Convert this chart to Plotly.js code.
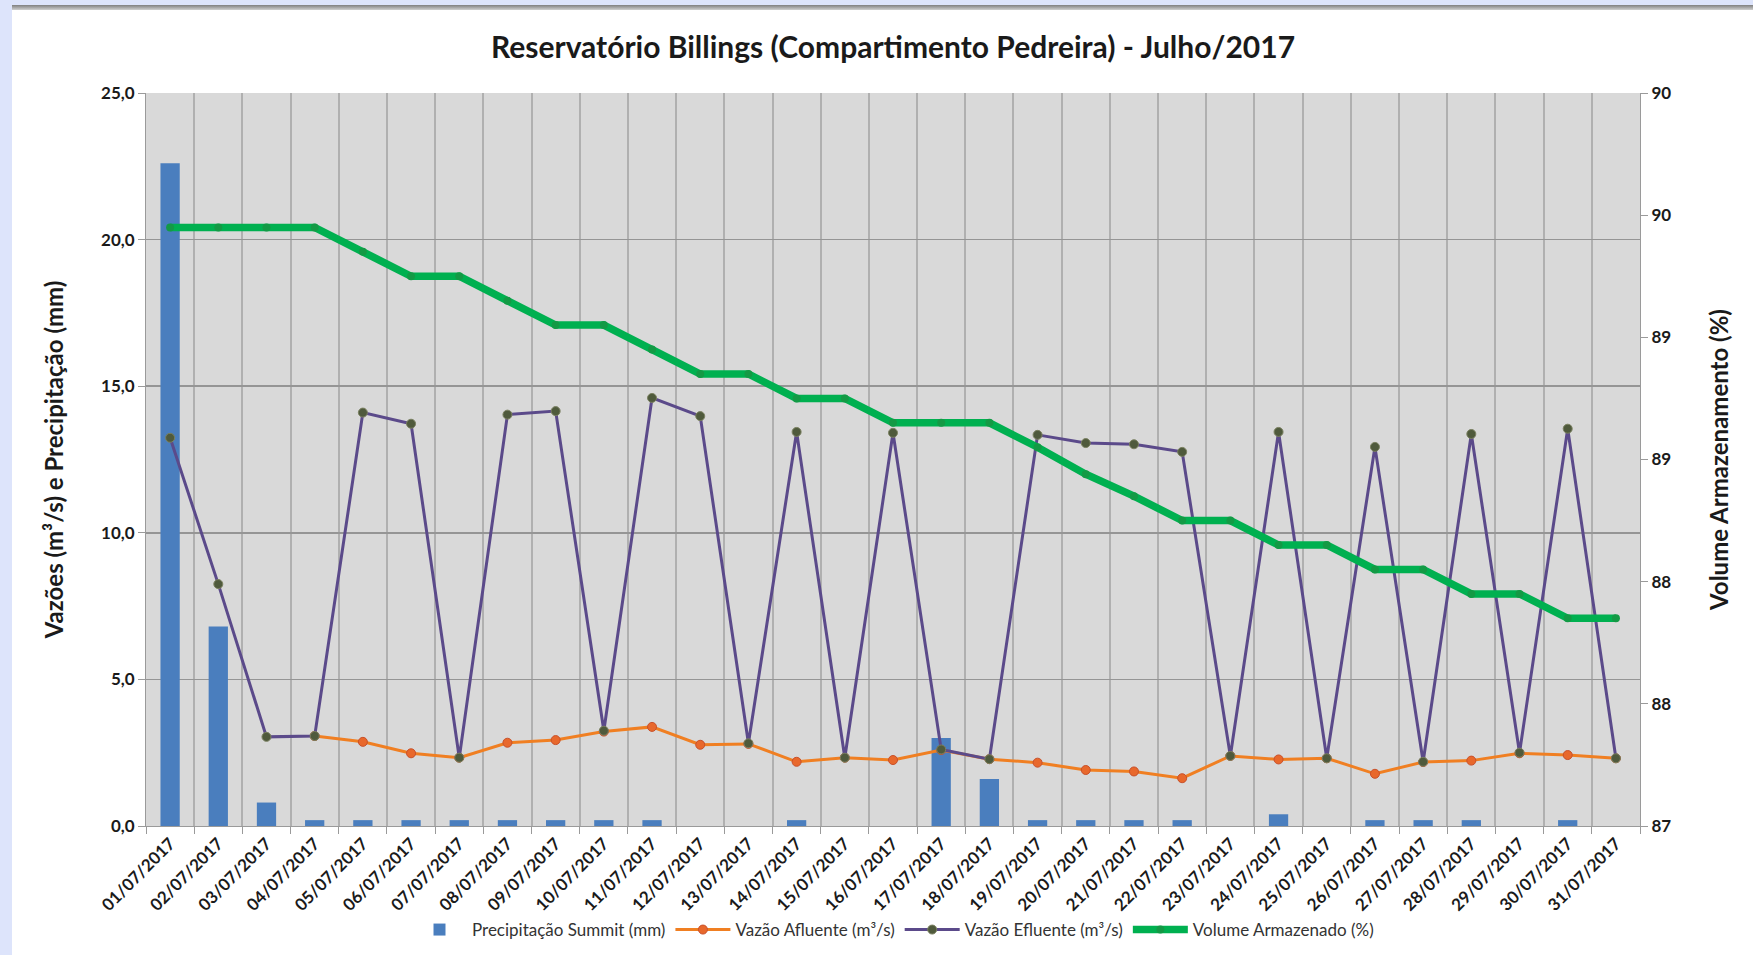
<!DOCTYPE html>
<html>
<head>
<meta charset="utf-8">
<script src="https://cdn.plot.ly/plotly-3.0.1.min.js"></script>
<style>
  html, body { margin: 0; padding: 0; background: #ffffff; }
  #chart { position: absolute; left: 0; top: 0; width: 1753px; height: 955px; }
  #frameLeft { position: absolute; left: 0; top: 0; width: 12px; height: 955px; background: #dde4fb; }
  #frameTop { position: absolute; left: 0; top: 0; width: 1753px; height: 5px; background: #dde4fb; }
  #frameLine { position: absolute; left: 12px; top: 5px; width: 1741px; height: 5px;
               background: linear-gradient(#7f7f7f, #d0d0d0); }
</style>
</head>
<body>
<div id="chart"></div>
<div id="frameLeft"></div>
<div id="frameTop"></div>
<div id="frameLine"></div>
<script>
// ---- Data ----
const dates = [
  "01/07/2017","02/07/2017","03/07/2017","04/07/2017","05/07/2017","06/07/2017","07/07/2017",
  "08/07/2017","09/07/2017","10/07/2017","11/07/2017","12/07/2017","13/07/2017","14/07/2017",
  "15/07/2017","16/07/2017","17/07/2017","18/07/2017","19/07/2017","20/07/2017","21/07/2017",
  "22/07/2017","23/07/2017","24/07/2017","25/07/2017","26/07/2017","27/07/2017","28/07/2017",
  "29/07/2017","30/07/2017","31/07/2017"
];

// Precipitação Summit (mm)
const precipitacao = [
  22.6, 6.8, 0.8, 0.2, 0.2, 0.2, 0.2,
  0.2, 0.2, 0.2, 0.2, null, null, 0.2,
  null, null, 3.0, 1.6, 0.2, 0.2, 0.2,
  0.2, null, 0.4, null, 0.2, 0.2, 0.2,
  null, 0.2, null
];

// Vazão Afluente (m³/s)
const vazaoAfluente = [
  null, null, null, 3.07, 2.87, 2.48, 2.33,
  2.84, 2.93, 3.22, 3.38, 2.77, 2.80, 2.19,
  2.33, 2.25, 2.59, 2.28, 2.16, 1.91, 1.86,
  1.63, 2.39, 2.27, 2.31, 1.78, 2.18, 2.23,
  2.48, 2.42, 2.31
];

// Vazão Efluente (m³/s)
const vazaoEfluente = [
  13.24, 8.25, 3.04, 3.07, 14.10, 13.72, 2.33,
  14.03, 14.15, 3.25, 14.60, 13.98, 2.82, 13.44,
  2.33, 13.41, 2.61, 2.28, 13.34, 13.06, 13.02,
  12.76, 2.39, 13.44, 2.31, 12.93, 2.19, 13.37,
  2.50, 13.55, 2.31
];

// Volume Armazenado (%)
const volumeArmazenado = [
  89.45, 89.45, 89.45, 89.45, 89.35, 89.25, 89.25,
  89.15, 89.05, 89.05, 88.95, 88.85, 88.85, 88.75,
  88.75, 88.65, 88.65, 88.65, 88.55, 88.44, 88.35,
  88.25, 88.25, 88.15, 88.15, 88.05, 88.05, 87.95,
  87.95, 87.85, 87.85
];

// Right axis ticks (Excel shows them rounded to integers)
const rightTickVals = [87, 87.5, 88, 88.5, 89, 89.5, 90];
const rightTickText = ["87", "88", "88", "89", "89", "90", "90"];

const titleText = "Reservatório Billings (Compartimento Pedreira) - Julho/2017";
const leftTitle = "Vazões (m³/s) e Precipitação (mm)";
const rightTitle = "Volume Armazenamento (%)";

const FONT = "Lato, 'Open Sans', 'DejaVu Sans', sans-serif";

const traces = [
  {
    type: "bar", name: "Precipitação Summit (mm)",
    x: dates, y: precipitacao, width: 0.4,
    marker: { color: "#4a7ebe" }
  },
  {
    type: "scatter", mode: "lines+markers", name: "Vazão Afluente (m³/s)",
    x: dates, y: vazaoAfluente,
    line: { color: "#f07f22", width: 3 },
    marker: { symbol: "circle", size: 9, color: "#e8682c", line: { color: "#c8502a", width: 1 } }
  },
  {
    type: "scatter", mode: "lines+markers", name: "Vazão Efluente (m³/s)",
    x: dates, y: vazaoEfluente,
    line: { color: "#5b4a8a", width: 3 },
    marker: { symbol: "circle", size: 9, color: "#4f5a3c", line: { color: "#7a8060", width: 1 } }
  },
  {
    type: "scatter", mode: "lines+markers", name: "Volume Armazenado (%)",
    x: dates, y: volumeArmazenado, yaxis: "y2",
    line: { color: "#00b050", width: 7.5 },
    marker: { symbol: "circle", size: 8, color: "#139a45" }
  }
];

const layout = {
  width: 1753, height: 955,
  margin: { l: 146, r: 113, t: 93, b: 129 },
  paper_bgcolor: "#ffffff",
  plot_bgcolor: "#d9d9d9",
  separators: ",.",
  font: { family: FONT, color: "#1a1a1a" },
  title: {
    text: titleText,
    font: { family: FONT, size: 30, weight: "bold", color: "#1a1a1a" },
    x: 0.5, xref: "paper", xanchor: "center",
    y: 1 - 47 / 955, yref: "container", yanchor: "middle"
  },
  xaxis: {
    type: "category",
    range: [-0.5, dates.length - 0.5],
    tickson: "boundaries",
    showgrid: true, gridcolor: "#b0b0b0", gridwidth: 2,
    ticks: "outside", ticklen: 7, tickcolor: "#9a9a9a",
    tickangle: -45,
    tickfont: { family: FONT, size: 17, weight: "bold", color: "#1a1a1a" },
    showline: true, linecolor: "#9a9a9a", linewidth: 1,
    automargin: false
  },
  yaxis: {
    range: [0, 25], dtick: 5, tick0: 0, tickformat: ".1f",
    showgrid: true, gridcolor: "#959595", gridwidth: 1.5,
    zeroline: false,
    ticks: "outside", ticklen: 7, tickcolor: "#9a9a9a",
    showline: true, linecolor: "#9a9a9a", linewidth: 1,
    tickfont: { family: FONT, size: 17, weight: "bold", color: "#1a1a1a" },
    title: { text: leftTitle, font: { family: FONT, size: 24, weight: "bold", color: "#1a1a1a" }, standoff: 30 },
    automargin: false
  },
  yaxis2: {
    overlaying: "y", side: "right",
    range: [87, 90],
    tickmode: "array", tickvals: rightTickVals, ticktext: rightTickText,
    showgrid: false, zeroline: false,
    ticks: "outside", ticklen: 7, tickcolor: "#9a9a9a",
    showline: true, linecolor: "#9a9a9a", linewidth: 1,
    tickfont: { family: FONT, size: 17, weight: "bold", color: "#1a1a1a" },
    title: { text: rightTitle, font: { family: FONT, size: 24, weight: "bold", color: "#1a1a1a" }, standoff: 40 },
    automargin: false
  },
  legend: {
    orientation: "h",
    x: 0.5, xref: "paper", xanchor: "center",
    y: 1 - 930 / 955, yref: "container", yanchor: "middle",
    font: { family: FONT, size: 17, color: "#333333" },
    itemwidth: 55,
    traceorder: "normal",
    bgcolor: "rgba(0,0,0,0)"
  },
  showlegend: true
};

Plotly.newPlot("chart", traces, layout, { staticPlot: true, displayModeBar: false });
</script>
</body>
</html>
